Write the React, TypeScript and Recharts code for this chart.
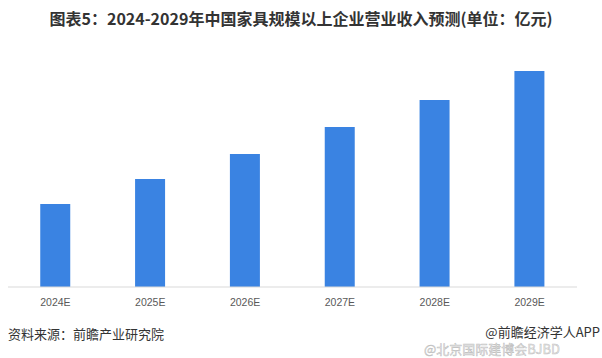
import React from "react";
import { BarChart, Bar, XAxis, YAxis } from "recharts";

const years = ["2024E", "2025E", "2026E", "2027E", "2028E", "2029E"];
// no y-axis in the source; values read as relative bar heights
const revenue = [83, 108, 133, 160, 187, 216];

const data = years.map((year, i) => ({ year, revenue: revenue[i] }));

const cjk = '"Noto Sans CJK SC", "Liberation Sans", sans-serif';

export default function App() {
  return (
    <div
      style={{
        position: "absolute",
        left: 0,
        top: 0,
        width: 602,
        height: 358,
        background: "#fff",
        overflow: "hidden",
        fontFamily: cjk,
      }}
    >
      <div
        style={{
          position: "absolute",
          top: 7,
          left: 0,
          width: 602,
          textAlign: "center",
          fontSize: 16,
          fontWeight: 700,
          color: "#333",
          lineHeight: "22px",
        }}
      >
        图表5：2024-2029年中国家具规模以上企业营业收入预测(单位：亿元)
      </div>

      <div style={{ position: "absolute", left: 0, top: 0 }}>
        <BarChart
          width={602}
          height={320}
          data={data}
          margin={{ top: 37, right: 25, left: 8, bottom: 0 }}
          barCategoryGap="34%"
        >
          <XAxis
            dataKey="year"
            height={33}
            axisLine={{ stroke: "#d9d9d9" }}
            tickLine={false}
            tick={{ fill: "#595959", fontSize: 10.5, fontFamily: "Liberation Sans, sans-serif" }}
            tickMargin={6}
          />
          <YAxis hide domain={[0, 250]} />
          <Bar dataKey="revenue" fill="#3a83e2" isAnimationActive={false} />
        </BarChart>
      </div>

      <div
        style={{
          position: "absolute",
          left: 8,
          top: 325,
          fontSize: 13,
          color: "#333",
          lineHeight: "17px",
        }}
      >
        资料来源：前瞻产业研究院
      </div>
      {/* weibo watermark, sits just under the credit line */}
      <div
        style={{
          position: "absolute",
          left: 424,
          top: 341,
          fontSize: 13,
          color: "rgba(235,235,235,0.85)",
          lineHeight: "15px",
          WebkitTextStroke: "0.5px rgba(150,150,150,0.6)",
        }}
      >
        @北京国际建博会BJBD
      </div>
      <div
        style={{
          position: "absolute",
          right: 2,
          top: 323,
          fontSize: 13,
          color: "#333",
          lineHeight: "17px",
        }}
      >
        @前瞻经济学人APP
      </div>
    </div>
  );
}
